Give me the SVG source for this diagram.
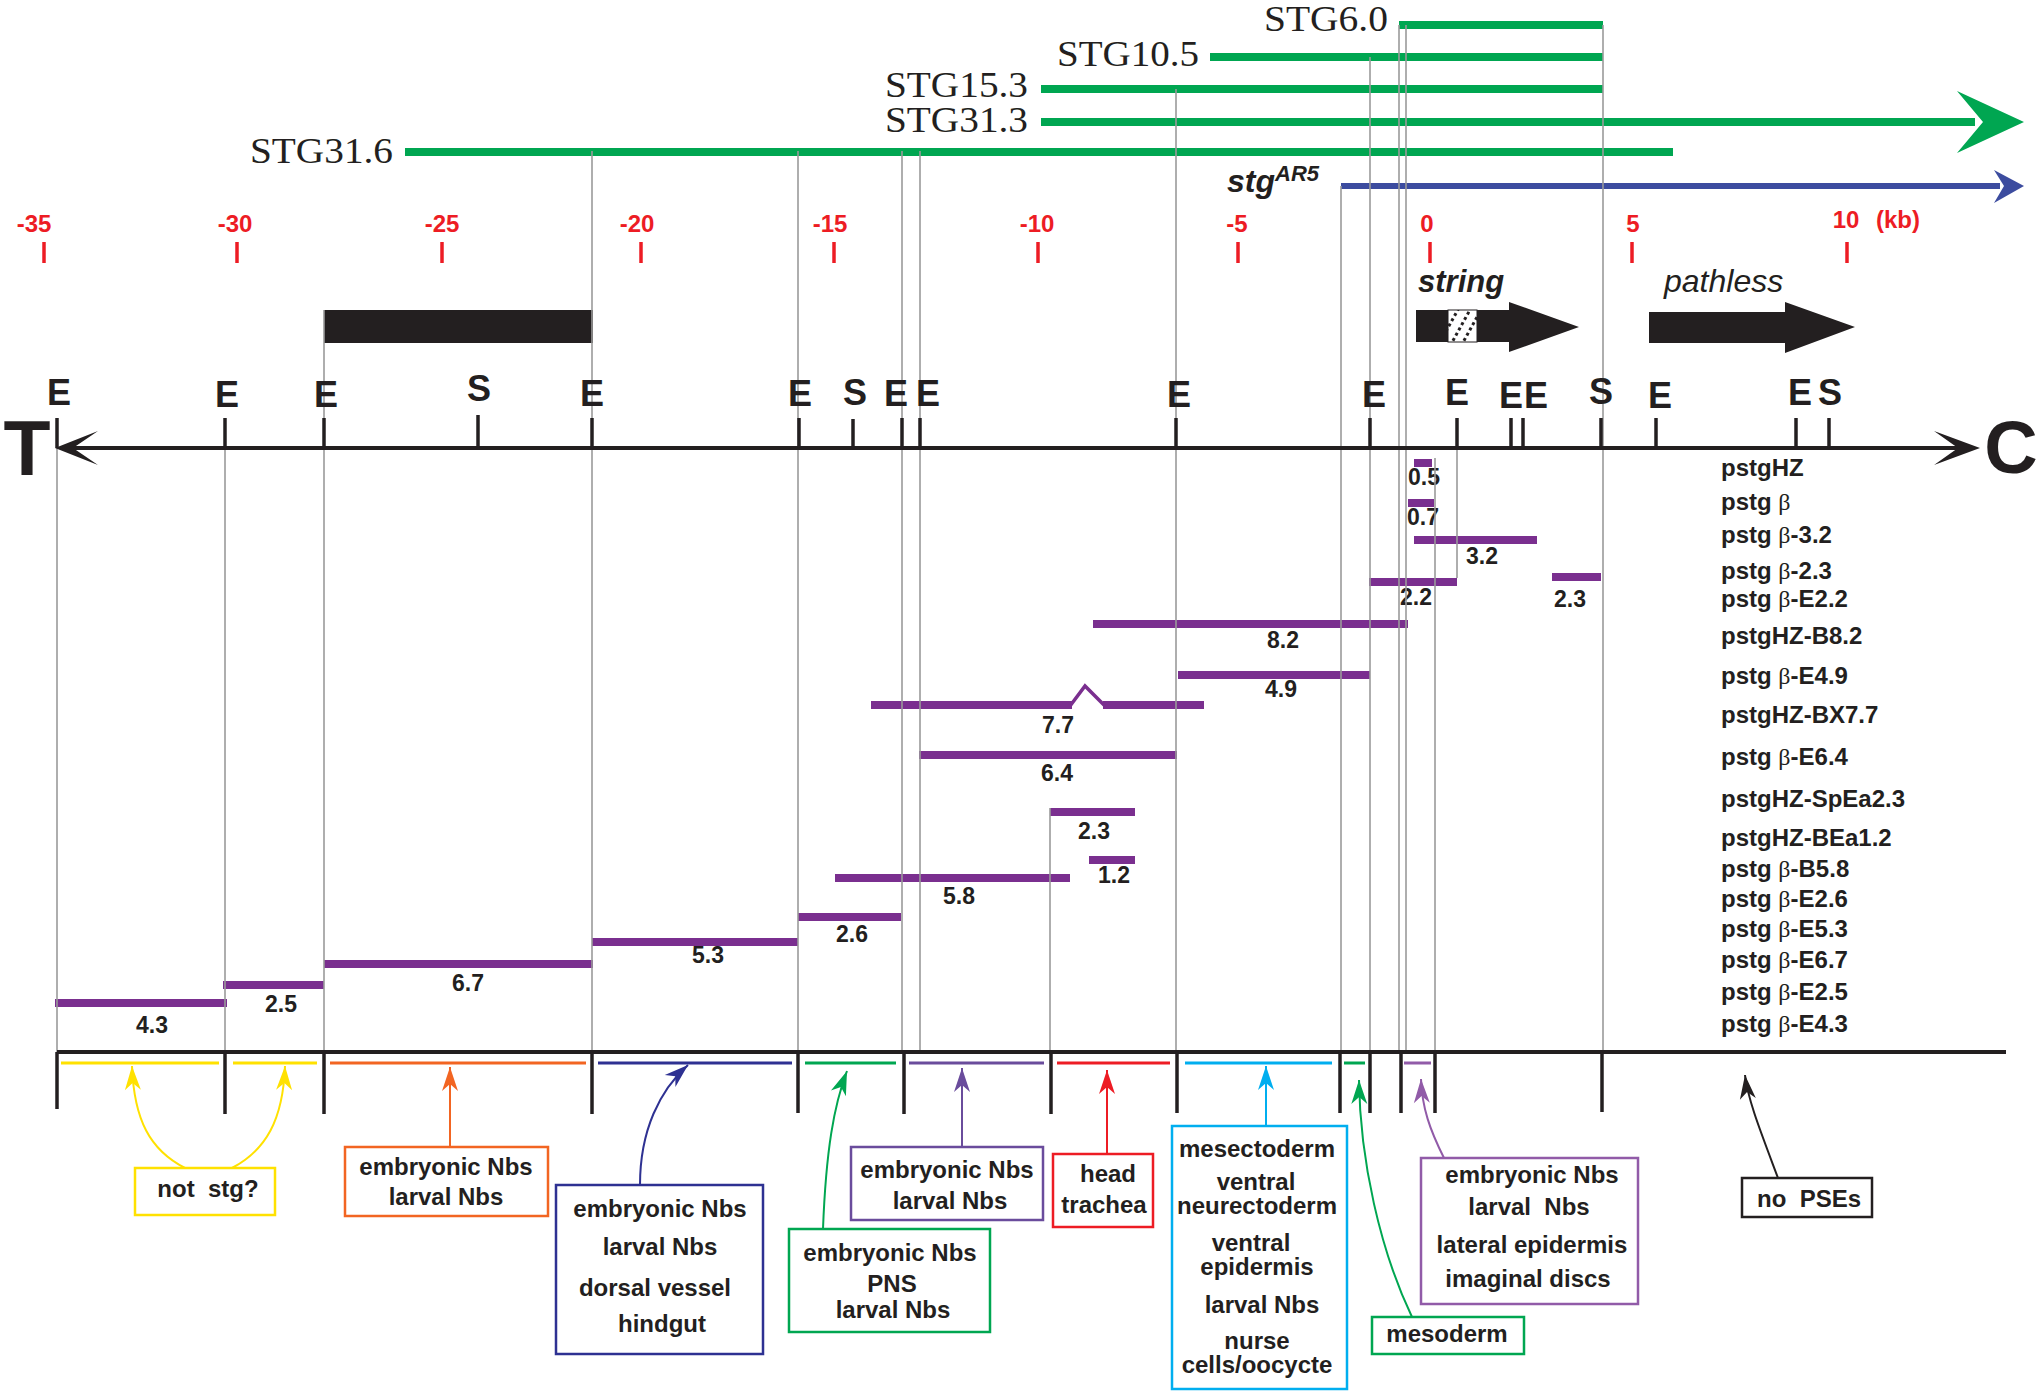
<svg xmlns="http://www.w3.org/2000/svg" width="2040" height="1396" viewBox="0 0 2040 1396">
<style>
text{font-family:'Liberation Sans',Arial,sans-serif;fill:#231f20}
.stg{font-family:'Liberation Serif','Times New Roman',serif;font-size:35px;text-anchor:end}
.red{fill:#ed1c24;font-weight:bold;font-size:24px;text-anchor:middle}
.rt{stroke:#ed1c24;stroke-width:3.5}
.site{font-weight:bold;font-size:36px;text-anchor:middle}
.tk{stroke:#231f20;stroke-width:3.5}
.gl{stroke:#9a9a9a;stroke-width:1.6}
.gr{stroke:#00a651;stroke-width:8}
.bar{stroke:#7a2f8f;stroke-width:8}
.num{font-weight:bold;font-size:23px;text-anchor:middle}
.lbl{font-weight:bold;font-size:24px}
.beta{font-family:'Liberation Serif','DejaVu Serif',serif;font-weight:normal}
.bt{font-weight:bold;font-size:24px;text-anchor:middle}
.seg{stroke-width:3}
.bx{fill:#fff;stroke-width:2.5}
.ar{fill:none;stroke-width:2}
</style>
<defs>
<marker id="mY" viewBox="-26 -10 28 20" refX="0" refY="0" markerWidth="28" markerHeight="20" markerUnits="userSpaceOnUse" orient="auto"><path d="M0,0 L-24,-8 L-17,0 L-24,8 Z" fill="#ffe100"/></marker>
<marker id="mO" viewBox="-26 -10 28 20" refX="0" refY="0" markerWidth="28" markerHeight="20" markerUnits="userSpaceOnUse" orient="auto"><path d="M0,0 L-24,-8 L-17,0 L-24,8 Z" fill="#f26522"/></marker>
<marker id="mN" viewBox="-26 -10 28 20" refX="0" refY="0" markerWidth="28" markerHeight="20" markerUnits="userSpaceOnUse" orient="auto"><path d="M0,0 L-24,-8 L-17,0 L-24,8 Z" fill="#2e3192"/></marker>
<marker id="mG" viewBox="-26 -10 28 20" refX="0" refY="0" markerWidth="28" markerHeight="20" markerUnits="userSpaceOnUse" orient="auto"><path d="M0,0 L-24,-8 L-17,0 L-24,8 Z" fill="#00a651"/></marker>
<marker id="mP" viewBox="-26 -10 28 20" refX="0" refY="0" markerWidth="28" markerHeight="20" markerUnits="userSpaceOnUse" orient="auto"><path d="M0,0 L-24,-8 L-17,0 L-24,8 Z" fill="#6a4c9c"/></marker>
<marker id="mR" viewBox="-26 -10 28 20" refX="0" refY="0" markerWidth="28" markerHeight="20" markerUnits="userSpaceOnUse" orient="auto"><path d="M0,0 L-24,-8 L-17,0 L-24,8 Z" fill="#ed1c24"/></marker>
<marker id="mC" viewBox="-26 -10 28 20" refX="0" refY="0" markerWidth="28" markerHeight="20" markerUnits="userSpaceOnUse" orient="auto"><path d="M0,0 L-24,-8 L-17,0 L-24,8 Z" fill="#00aeef"/></marker>
<marker id="mQ" viewBox="-26 -10 28 20" refX="0" refY="0" markerWidth="28" markerHeight="20" markerUnits="userSpaceOnUse" orient="auto"><path d="M0,0 L-24,-8 L-17,0 L-24,8 Z" fill="#915ba8"/></marker>
<marker id="mK" viewBox="-26 -10 28 20" refX="0" refY="0" markerWidth="28" markerHeight="20" markerUnits="userSpaceOnUse" orient="auto"><path d="M0,0 L-24,-8 L-17,0 L-24,8 Z" fill="#231f20"/></marker>
<clipPath id="hc"><rect x="1448" y="310" width="29" height="32"/></clipPath>
</defs>

<!-- constructs -->
<g id="constructs">
<line class="gr" x1="1399" y1="25" x2="1603" y2="25"/>
<text class="stg" x="1388" y="31" textLength="124" lengthAdjust="spacingAndGlyphs">STG6.0</text>
<line class="gr" x1="1210" y1="57" x2="1603" y2="57"/>
<text class="stg" x="1199" y="66" textLength="142" lengthAdjust="spacingAndGlyphs">STG10.5</text>
<line class="gr" x1="1041" y1="89" x2="1603" y2="89"/>
<text class="stg" x="1028" y="97" textLength="143" lengthAdjust="spacingAndGlyphs">STG15.3</text>
<line class="gr" x1="1041" y1="122" x2="1975" y2="122"/>
<path d="M2024,122 L1957,91 L1983,122 L1957,153 Z" fill="#00a651"/>
<text class="stg" x="1028" y="132" textLength="143" lengthAdjust="spacingAndGlyphs">STG31.3</text>
<line class="gr" x1="405" y1="152" x2="1673" y2="152"/>
<text class="stg" x="393" y="163" textLength="143" lengthAdjust="spacingAndGlyphs">STG31.6</text>
<line x1="1341" y1="186" x2="2000" y2="186" stroke="#3c4c9f" stroke-width="6"/>
<path d="M2024,186 L1994,170 L2004,186 L1994,203 Z" fill="#3c4c9f"/>
<text x="1227" y="192" font-weight="bold" font-style="italic" font-size="32">stg<tspan font-size="22" dy="-11">AR5</tspan></text>
</g>

<!-- scale -->
<g id="scale">
<text class="red" x="34" y="232">-35</text><line class="rt" x1="44" y1="242" x2="44" y2="263"/>
<text class="red" x="235" y="232">-30</text><line class="rt" x1="237" y1="242" x2="237" y2="263"/>
<text class="red" x="442" y="232">-25</text><line class="rt" x1="442" y1="242" x2="442" y2="263"/>
<text class="red" x="637" y="232">-20</text><line class="rt" x1="641" y1="242" x2="641" y2="263"/>
<text class="red" x="830" y="232">-15</text><line class="rt" x1="834" y1="242" x2="834" y2="263"/>
<text class="red" x="1037" y="232">-10</text><line class="rt" x1="1038" y1="242" x2="1038" y2="263"/>
<text class="red" x="1237" y="232">-5</text><line class="rt" x1="1238" y1="242" x2="1238" y2="263"/>
<text class="red" x="1427" y="232">0</text><line class="rt" x1="1430" y1="242" x2="1430" y2="263"/>
<text class="red" x="1633" y="232">5</text><line class="rt" x1="1632" y1="242" x2="1632" y2="263"/>
<text class="red" x="1846" y="228">10</text><text class="red" x="1898" y="228">(kb)</text><line class="rt" x1="1847" y1="242" x2="1847" y2="263"/>
</g>

<!-- genes -->
<g id="genes">
<rect x="324" y="310" width="269" height="33" fill="#231f20"/>
<text x="1418" y="292" font-weight="bold" font-style="italic" font-size="31">string</text>
<rect x="1416" y="310" width="32" height="32" fill="#231f20"/>
<rect x="1448" y="310" width="29" height="32" fill="#fff" stroke="#231f20" stroke-width="1"/>
<g clip-path="url(#hc)" stroke="#231f20" stroke-width="3" stroke-dasharray="3 3">
<line x1="1440" y1="342" x2="1460" y2="306"/>
<line x1="1450" y1="346" x2="1471" y2="308"/>
<line x1="1461" y1="346" x2="1482" y2="308"/>
</g>
<path d="M1477,310 L1509,310 L1509,302 L1579,327 L1509,352 L1509,342 L1477,342 Z" fill="#231f20"/>
<text x="1664" y="292" font-style="italic" font-size="32">pathless</text>
<path d="M1649,312 L1785,312 L1785,302 L1855,327 L1785,353 L1785,343 L1649,343 Z" fill="#231f20"/>
</g>

<!-- purple bars -->
<g id="clones">
<line class="bar" x1="1414" y1="463" x2="1432" y2="463"/><text class="num" x="1424" y="485">0.5</text>
<line class="bar" x1="1408" y1="503" x2="1434" y2="503"/><text class="num" x="1423" y="525">0.7</text>
<line class="bar" x1="1414" y1="540" x2="1537" y2="540"/><text class="num" x="1482" y="564">3.2</text>
<line class="bar" x1="1369" y1="582" x2="1457" y2="582"/><text class="num" x="1416" y="605">2.2</text>
<line class="bar" x1="1552" y1="577" x2="1601" y2="577"/><text class="num" x="1570" y="607">2.3</text>
<line class="bar" x1="1093" y1="624" x2="1408" y2="624"/><text class="num" x="1283" y="648">8.2</text>
<line class="bar" x1="1178" y1="675" x2="1370" y2="675"/><text class="num" x="1281" y="697">4.9</text>
<line class="bar" x1="871" y1="705" x2="1072" y2="705"/><line class="bar" x1="1103" y1="705" x2="1204" y2="705"/>
<polyline points="1070,706 1085,686 1105,706" fill="none" stroke="#7a2f8f" stroke-width="3.5"/>
<text class="num" x="1058" y="733">7.7</text>
<line class="bar" x1="919" y1="755" x2="1177" y2="755"/><text class="num" x="1057" y="781">6.4</text>
<line class="bar" x1="1050" y1="812" x2="1135" y2="812"/><text class="num" x="1094" y="839">2.3</text>
<line class="bar" x1="1089" y1="860" x2="1135" y2="860"/><text class="num" x="1114" y="883">1.2</text>
<line class="bar" x1="835" y1="878" x2="1070" y2="878"/><text class="num" x="959" y="904">5.8</text>
<line class="bar" x1="798" y1="917" x2="901" y2="917"/><text class="num" x="852" y="942">2.6</text>
<line class="bar" x1="592" y1="942" x2="798" y2="942"/><text class="num" x="708" y="963">5.3</text>
<line class="bar" x1="324" y1="964" x2="593" y2="964"/><text class="num" x="468" y="991">6.7</text>
<line class="bar" x1="223" y1="985" x2="324" y2="985"/><text class="num" x="281" y="1012">2.5</text>
<line class="bar" x1="55" y1="1003" x2="227" y2="1003"/><text class="num" x="152" y="1033">4.3</text>
</g>

<!-- gray guide lines -->
<g id="guides">
<line class="gl" x1="57" y1="448" x2="57" y2="1052"/>
<line class="gl" x1="225" y1="448" x2="225" y2="1052"/>
<line class="gl" x1="324" y1="310" x2="324" y2="1052"/>
<line class="gl" x1="592" y1="151" x2="592" y2="1052"/>
<line class="gl" x1="798" y1="151" x2="798" y2="1052"/>
<line class="gl" x1="902" y1="151" x2="902" y2="1052"/>
<line class="gl" x1="920" y1="151" x2="920" y2="1052"/>
<line class="gl" x1="1050" y1="808" x2="1050" y2="1052"/>
<line class="gl" x1="1176" y1="89" x2="1176" y2="1052"/>
<line class="gl" x1="1341" y1="186" x2="1341" y2="1052"/>
<line class="gl" x1="1370" y1="57" x2="1370" y2="1052"/>
<line class="gl" x1="1399" y1="25" x2="1399" y2="1052"/>
<line class="gl" x1="1406" y1="25" x2="1406" y2="1052"/>
<line class="gl" x1="1435" y1="458" x2="1435" y2="1052"/>
<line class="gl" x1="1457" y1="448" x2="1457" y2="578"/>
<line class="gl" x1="1603" y1="25" x2="1603" y2="1052"/>
</g>

<!-- restriction map -->
<g id="map">
<line x1="62" y1="448" x2="1972" y2="448" stroke="#231f20" stroke-width="4"/>
<path d="M55,448 L98,431 L73,448 L98,465 Z" fill="#231f20"/>
<path d="M1980,448 L1934,431 L1958,448 L1934,465 Z" fill="#231f20"/>
<text x="27" y="475" font-weight="bold" font-size="77" text-anchor="middle">T</text>
<text x="2011" y="473" font-weight="bold" font-size="74" text-anchor="middle">C</text>
<line class="tk" x1="57" y1="418" x2="57" y2="448"/><text class="site" x="59" y="405">E</text>
<line class="tk" x1="225" y1="418" x2="225" y2="448"/><text class="site" x="227" y="407">E</text>
<line class="tk" x1="324" y1="418" x2="324" y2="448"/><text class="site" x="326" y="407">E</text>
<line class="tk" x1="478" y1="415" x2="478" y2="448"/><text class="site" x="479" y="401">S</text>
<line class="tk" x1="592" y1="418" x2="592" y2="448"/><text class="site" x="592" y="406">E</text>
<line class="tk" x1="799" y1="418" x2="799" y2="448"/><text class="site" x="800" y="406">E</text>
<line class="tk" x1="853" y1="419" x2="853" y2="448"/><text class="site" x="855" y="405">S</text>
<line class="tk" x1="902" y1="418" x2="902" y2="448"/><text class="site" x="896" y="406">E</text>
<line class="tk" x1="920" y1="418" x2="920" y2="448"/><text class="site" x="928" y="406">E</text>
<line class="tk" x1="1176" y1="418" x2="1176" y2="448"/><text class="site" x="1179" y="407">E</text>
<line class="tk" x1="1370" y1="418" x2="1370" y2="448"/><text class="site" x="1374" y="407">E</text>
<line class="tk" x1="1457" y1="418" x2="1457" y2="448"/><text class="site" x="1457" y="405">E</text>
<line class="tk" x1="1511" y1="418" x2="1511" y2="448"/><text class="site" x="1511" y="408">E</text>
<line class="tk" x1="1523" y1="418" x2="1523" y2="448"/><text class="site" x="1536" y="408">E</text>
<line class="tk" x1="1601" y1="418" x2="1601" y2="448"/><text class="site" x="1601" y="404">S</text>
<line class="tk" x1="1656" y1="418" x2="1656" y2="448"/><text class="site" x="1660" y="408">E</text>
<line class="tk" x1="1796" y1="418" x2="1796" y2="448"/><text class="site" x="1800" y="405">E</text>
<line class="tk" x1="1829" y1="418" x2="1829" y2="448"/><text class="site" x="1830" y="405">S</text>
</g>

<!-- clone names -->
<g id="names">
<text class="lbl" x="1721" y="476">pstgHZ</text>
<text class="lbl" x="1721" y="510">pstg <tspan class="beta">β</tspan></text>
<text class="lbl" x="1721" y="543">pstg <tspan class="beta">β</tspan>-3.2</text>
<text class="lbl" x="1721" y="579">pstg <tspan class="beta">β</tspan>-2.3</text>
<text class="lbl" x="1721" y="607">pstg <tspan class="beta">β</tspan>-E2.2</text>
<text class="lbl" x="1721" y="644">pstgHZ-B8.2</text>
<text class="lbl" x="1721" y="684">pstg <tspan class="beta">β</tspan>-E4.9</text>
<text class="lbl" x="1721" y="723">pstgHZ-BX7.7</text>
<text class="lbl" x="1721" y="765">pstg <tspan class="beta">β</tspan>-E6.4</text>
<text class="lbl" x="1721" y="807">pstgHZ-SpEa2.3</text>
<text class="lbl" x="1721" y="846">pstgHZ-BEa1.2</text>
<text class="lbl" x="1721" y="877">pstg <tspan class="beta">β</tspan>-B5.8</text>
<text class="lbl" x="1721" y="907">pstg <tspan class="beta">β</tspan>-E2.6</text>
<text class="lbl" x="1721" y="937">pstg <tspan class="beta">β</tspan>-E5.3</text>
<text class="lbl" x="1721" y="968">pstg <tspan class="beta">β</tspan>-E6.7</text>
<text class="lbl" x="1721" y="1000">pstg <tspan class="beta">β</tspan>-E2.5</text>
<text class="lbl" x="1721" y="1032">pstg <tspan class="beta">β</tspan>-E4.3</text>
</g>

<!-- bottom axis -->
<g id="regions">
<line x1="57" y1="1052" x2="2006" y2="1052" stroke="#231f20" stroke-width="4"/>
<g stroke="#231f20" stroke-width="3.5">
<line x1="57" y1="1052" x2="57" y2="1109"/>
<line x1="225" y1="1052" x2="225" y2="1114"/>
<line x1="324" y1="1052" x2="324" y2="1114"/>
<line x1="592" y1="1052" x2="592" y2="1114"/>
<line x1="798" y1="1052" x2="798" y2="1113"/>
<line x1="904" y1="1052" x2="904" y2="1114"/>
<line x1="1051" y1="1052" x2="1051" y2="1114"/>
<line x1="1177" y1="1052" x2="1177" y2="1113"/>
<line x1="1340" y1="1052" x2="1340" y2="1113"/>
<line x1="1370" y1="1052" x2="1370" y2="1113"/>
<line x1="1401" y1="1052" x2="1401" y2="1113"/>
<line x1="1435" y1="1052" x2="1435" y2="1113"/>
<line x1="1602" y1="1052" x2="1602" y2="1112"/>
</g>
<line class="seg" x1="61" y1="1063" x2="219" y2="1063" stroke="#ffe100"/>
<line class="seg" x1="233" y1="1063" x2="317" y2="1063" stroke="#ffe100"/>
<line class="seg" x1="330" y1="1063" x2="586" y2="1063" stroke="#f26522"/>
<line class="seg" x1="598" y1="1063" x2="792" y2="1063" stroke="#2e3192"/>
<line class="seg" x1="805" y1="1063" x2="896" y2="1063" stroke="#00a651"/>
<line class="seg" x1="909" y1="1063" x2="1044" y2="1063" stroke="#6a4c9c"/>
<line class="seg" x1="1057" y1="1063" x2="1170" y2="1063" stroke="#ed1c24"/>
<line class="seg" x1="1185" y1="1063" x2="1332" y2="1063" stroke="#00aeef"/>
<line class="seg" x1="1344" y1="1063" x2="1365" y2="1063" stroke="#00a651"/>
<line class="seg" x1="1404" y1="1063" x2="1431" y2="1063" stroke="#915ba8"/>
</g>

<!-- connectors -->
<g id="connectors">
<path class="ar" stroke="#ffe100" d="M185,1168 C150,1150 134,1120 132,1066" marker-end="url(#mY)"/>
<path class="ar" stroke="#ffe100" d="M232,1168 C266,1150 283,1120 285,1066" marker-end="url(#mY)"/>
<path class="ar" stroke="#f26522" d="M450,1147 L450,1067" marker-end="url(#mO)"/>
<path class="ar" stroke="#2e3192" d="M640,1185 C640,1130 660,1090 688,1065" marker-end="url(#mN)"/>
<path class="ar" stroke="#00a651" d="M823,1229 C826,1150 834,1105 847,1071" marker-end="url(#mG)"/>
<path class="ar" stroke="#6a4c9c" d="M962,1147 L962,1068" marker-end="url(#mP)"/>
<path class="ar" stroke="#ed1c24" d="M1107,1154 L1107,1070" marker-end="url(#mR)"/>
<path class="ar" stroke="#00aeef" d="M1266,1126 L1266,1066" marker-end="url(#mC)"/>
<path class="ar" stroke="#00a651" d="M1412,1317 C1380,1250 1360,1160 1359,1080" marker-end="url(#mG)"/>
<path class="ar" stroke="#915ba8" d="M1444,1158 C1430,1130 1422,1108 1421,1079" marker-end="url(#mQ)"/>
<path class="ar" stroke="#231f20" d="M1778,1178 C1760,1130 1748,1100 1745,1075" marker-end="url(#mK)"/>
</g>

<!-- boxes -->
<g id="box-notstg">
<rect class="bx" x="135" y="1168" width="140" height="47" stroke="#ffe100"/>
<text class="bt" x="208" y="1197" xml:space="preserve">not  stg?</text>
</g>
<g id="box-orange">
<rect class="bx" x="345" y="1147" width="203" height="69" stroke="#f26522"/>
<text class="bt" x="446" y="1175">embryonic Nbs</text>
<text class="bt" x="446" y="1205">larval Nbs</text>
</g>
<g id="box-navy">
<rect class="bx" x="556" y="1185" width="207" height="169" stroke="#2e3192"/>
<text class="bt" x="660" y="1217">embryonic Nbs</text>
<text class="bt" x="660" y="1255">larval Nbs</text>
<text class="bt" x="655" y="1296">dorsal vessel</text>
<text class="bt" x="662" y="1332">hindgut</text>
</g>
<g id="box-green">
<rect class="bx" x="789" y="1229" width="201" height="103" stroke="#00a651"/>
<text class="bt" x="890" y="1261">embryonic Nbs</text>
<text class="bt" x="892" y="1292">PNS</text>
<text class="bt" x="893" y="1318">larval Nbs</text>
</g>
<g id="box-purple">
<rect class="bx" x="851" y="1147" width="192" height="73" stroke="#6a4c9c"/>
<text class="bt" x="947" y="1178">embryonic Nbs</text>
<text class="bt" x="950" y="1209">larval Nbs</text>
</g>
<g id="box-red">
<rect class="bx" x="1053" y="1154" width="100" height="73" stroke="#ed1c24"/>
<text class="bt" x="1108" y="1182">head</text>
<text class="bt" x="1104" y="1213">trachea</text>
</g>
<g id="box-cyan">
<rect class="bx" x="1172" y="1126" width="175" height="263" stroke="#00aeef"/>
<text class="bt" x="1257" y="1157">mesectoderm</text>
<text class="bt" x="1256" y="1190">ventral</text>
<text class="bt" x="1257" y="1214">neurectoderm</text>
<text class="bt" x="1251" y="1251">ventral</text>
<text class="bt" x="1257" y="1275">epidermis</text>
<text class="bt" x="1262" y="1313">larval Nbs</text>
<text class="bt" x="1257" y="1349">nurse</text>
<text class="bt" x="1257" y="1373">cells/oocycte</text>
</g>
<g id="box-mesoderm">
<rect class="bx" x="1372" y="1317" width="152" height="37" stroke="#00a651"/>
<text class="bt" x="1447" y="1342">mesoderm</text>
</g>
<g id="box-purple2">
<rect class="bx" x="1421" y="1158" width="217" height="146" stroke="#915ba8"/>
<text class="bt" x="1532" y="1183">embryonic Nbs</text>
<text class="bt" x="1529" y="1215" xml:space="preserve">larval  Nbs</text>
<text class="bt" x="1532" y="1253">lateral epidermis</text>
<text class="bt" x="1528" y="1287">imaginal discs</text>
</g>
<g id="box-nopse">
<rect class="bx" x="1742" y="1178" width="130" height="39" stroke="#231f20" stroke-width="3"/>
<text class="bt" x="1809" y="1207" xml:space="preserve">no  PSEs</text>
</g>
</svg>
